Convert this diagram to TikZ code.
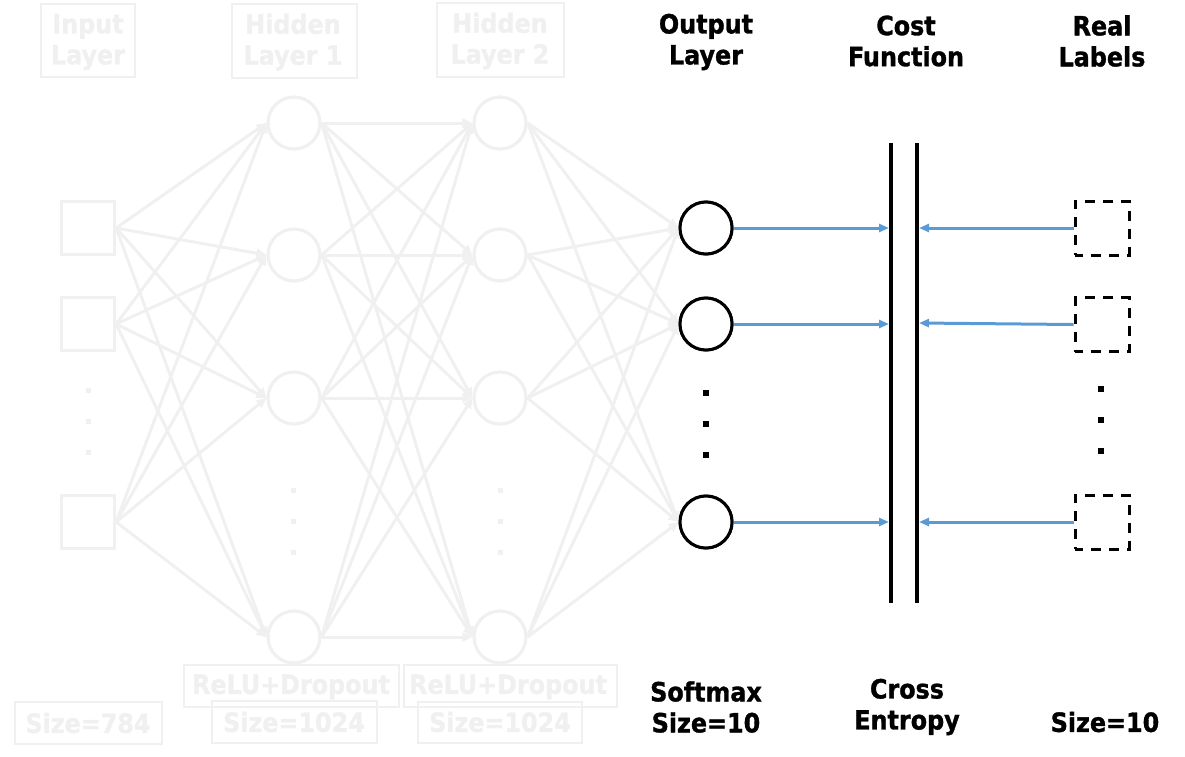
\documentclass[tikz,border=0pt]{standalone}
\usepackage{fontspec}
\setmainfont{DejaVu Sans Condensed Bold}[FakeBold=1.2]
\usetikzlibrary{arrows.meta}
\definecolor{faded}{HTML}{F0F0F0}
\definecolor{arrowblue}{HTML}{5B9BD5}
\begin{document}
\begin{tikzpicture}[x=1pt,y=-1pt,
  lbl/.style={font=\fontsize{26.5}{31}\selectfont, align=center, inner sep=0pt},
  fadelbl/.style={lbl, text=faded},
  fadebox/.style={draw=faded, line width=1.5pt},
  insq/.style={draw=faded, line width=3.2pt, minimum size=53pt, inner sep=0pt},
  fcirc/.style={circle, draw=faded, line width=3.2pt, minimum size=52pt, inner sep=0pt},
  ocirc/.style={circle, draw=black, line width=3pt, minimum size=52pt, inner sep=0pt},
  realsq/.style={draw=black, line width=3pt, dash pattern=on 10pt off 8pt, dash phase=2pt, minimum size=54pt, inner sep=0pt},
  fedge/.style={draw=faded, line width=3pt, -{Triangle[length=10pt,width=9pt]}},
  bedge/.style={draw=arrowblue, line width=3pt, -{Triangle[length=10pt,width=8pt]}},
  costline/.style={draw=black, line width=3.5pt},
  dotblk/.style={fill=black},
  dotgray/.style={fill=faded}
]
\useasboundingbox (0,0) rectangle (1185,756);

% ---------- faded labels ----------
\draw[fadebox] (41,4) rectangle (135,77);
\node[fadelbl] (tin) at (88,42) {Input\\Layer};
\draw[fadebox] (232,4) rectangle (357,78);
\node[fadelbl] (th1) at (293,42) {Hidden\\Layer 1};
\draw[fadebox] (437,3) rectangle (564,77);
\node[fadelbl] (th2) at (500,41) {Hidden\\Layer 2};

\draw[fadebox] (184,665) rectangle (399,707);
\node[fadelbl] (r1) at (291,687) {ReLU+Dropout};
\draw[fadebox] (404,665) rectangle (617,707);
\node[fadelbl] (r2) at (508,687) {ReLU+Dropout};
\draw[fadebox] (15,702) rectangle (162,744);
\node[fadelbl] (s0) at (88,723) {Size=784};
\draw[fadebox] (212,701) rectangle (377,743);
\node[fadelbl] (s1) at (294,722) {Size=1024};
\draw[fadebox] (418,702) rectangle (582,743);
\node[fadelbl] (s2) at (500,722) {Size=1024};

% ---------- faded network ----------
\node[insq] (in1) at (88,228) {};
\node[insq] (in2) at (88,324) {};
\node[insq] (in3) at (88,522) {};

\foreach \n/\y in {a/123,b/255,c/398,d/637}{
  \node[fcirc] (h1\n) at (294,\y) {};
  \node[fcirc] (h2\n) at (500,\y) {};
}

% ---------- output layer ----------
\node[ocirc] (o1) at (706,228) {};
\node[ocirc] (o2) at (706,324) {};
\node[ocirc] (o3) at (706,522) {};

% faded edges
\foreach \s in {in1,in2,in3}
  \foreach \t in {h1a,h1b,h1c,h1d}
    \draw[fedge] (\s.east) -- (\t.west);
\foreach \s in {h1a,h1b,h1c,h1d}
  \foreach \t in {h2a,h2b,h2c,h2d}
    \draw[fedge] (\s.east) -- (\t.west);
\foreach \s in {h2a,h2b,h2c,h2d}
  \foreach \t in {o1,o2,o3}
    \draw[fedge] (\s.east) -- (\t.west);

% faded dots
\foreach \y in {390,421,452} \fill[dotgray] (85.5,\y-2.5) rectangle ++(5,5);
\foreach \y in {490,521,552} {
  \fill[dotgray] (291,\y-2.5) rectangle ++(5,5);
  \fill[dotgray] (497.5,\y-2.5) rectangle ++(5,5);
}

% redraw output circles on top
\node[ocirc, fill=white] at (o1) {};
\node[ocirc, fill=white] at (o2) {};
\node[ocirc, fill=white] at (o3) {};

% output dots
\foreach \y in {393,424,455} \fill[dotblk] (703,\y-3) rectangle ++(6,6);

% ---------- cost function ----------
\coordinate (cLt) at (891,143);
\coordinate (cLb) at (891,603);
\coordinate (cRt) at (917,143);
\coordinate (cRb) at (917,603);
\draw[costline] (cLt) -- (cLb);
\draw[costline] (cRt) -- (cRb);

\coordinate (a1) at (889,228);
\coordinate (a2) at (889,324);
\coordinate (a3) at (889,522);
\coordinate (b1) at (919,228);
\coordinate (b2) at (919,323);
\coordinate (b3) at (919,522);

% ---------- real labels ----------
\node[realsq] (l1) at (1102,228) {};
\node[realsq] (l2) at (1102,324.5) {};
\node[realsq] (l3) at (1102,522) {};
\foreach \y in {389,420,451} \fill[dotblk] (1098,\y-3) rectangle ++(6,6);

\draw[bedge] (o1.east) -- (a1);
\draw[bedge] (o2.east) -- (a2);
\draw[bedge] (o3.east) -- (a3);
\draw[bedge] (l1.west) -- (b1);
\draw[bedge] (l2.west) -- (b2);
\draw[bedge] (l3.west) -- (b3);

% ---------- black labels ----------
\node[lbl] (tout) at (706,42) {Output\\Layer};
\node[lbl] (tcost) at (906,41) {Cost\\Function};
\node[lbl] (treal) at (1102,41) {Real\\Labels};
\node[lbl] (tsoft) at (706,707) {Softmax\\Size=10};
\node[lbl] (tce) at (907,707) {Cross\\Entropy};
\node[lbl] (tsz) at (1105,722) {Size=10};
\end{tikzpicture}
\end{document}
